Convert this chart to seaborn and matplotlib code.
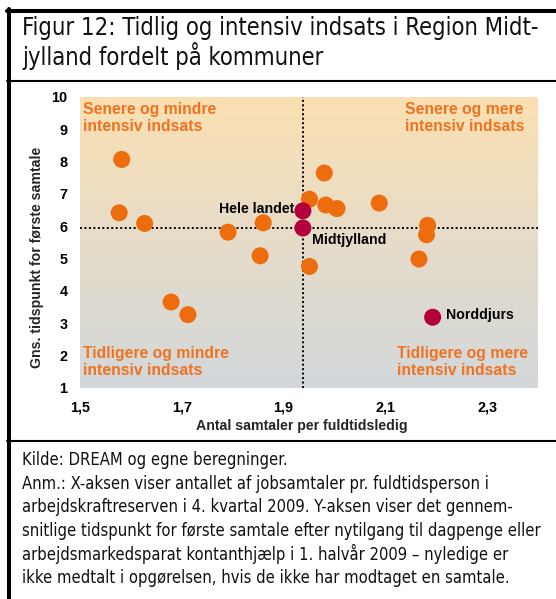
import numpy as np
import pandas as pd
import matplotlib
matplotlib.use("Agg")
import matplotlib.pyplot as plt
import seaborn as sns
from matplotlib import font_manager
from matplotlib.colors import LinearSegmentedColormap
from matplotlib.lines import Line2D

# ---------------- data ----------------
kommune_x = [1.582, 1.577, 1.627, 1.791, 1.860, 1.854, 1.980, 1.951, 1.983, 2.005,
             2.088, 2.183, 2.181, 2.166, 1.951, 1.679, 1.712]
kommune_y = [8.06, 6.41, 6.08, 5.81, 6.10, 5.08, 7.64, 6.83, 6.65, 6.54,
             6.71, 6.02, 5.73, 4.98, 4.75, 3.65, 3.26]
fremhaevet_navn = ["Hele landet", "Midtjylland", "Norddjurs"]
fremhaevet_x = [1.938, 1.938, 2.193]
fremhaevet_y = [6.47, 5.94, 3.18]
x_ticks = [1.5, 1.7, 1.9, 2.1, 2.3]
x_ticklabels = ["1,5", "1,7", "1,9", "2,1", "2,3"]
y_ticks = [1, 2, 3, 4, 5, 6, 7, 8, 9, 10]
ref_x = 1.938   # Midtjylland
ref_y = 5.94

title = "Figur 12: Tidlig og intensiv indsats i Region Midt-\njylland fordelt på kommuner"
notes = ["Kilde: DREAM og egne beregninger.",
         "Anm.: X-aksen viser antallet af jobsamtaler pr. fuldtidsperson i",
         "arbejdskraftreserven i 4. kvartal 2009. Y-aksen viser det gennem-",
         "snitlige tidspunkt for første samtale efter nytilgang til dagpenge eller",
         "arbejdsmarkedsparat kontanthjælp i 1. halvår 2009 – nyledige er",
         "ikke medtalt i opgørelsen, hvis de ikke har modtaget en samtale."]

df = pd.DataFrame({
    "x": kommune_x + fremhaevet_x,
    "y": kommune_y + fremhaevet_y,
    "gruppe": ["kommune"] * len(kommune_x) + ["fremhaevet"] * len(fremhaevet_x),
})

# ---------------- style ----------------
sns.set_theme(style="white")
plt.rcParams["font.family"] = ["Liberation Sans", "DejaVu Sans"]

names = {f.name for f in font_manager.fontManager.ttflist}
if "Liberation Sans Narrow" in names:
    narrow = dict(family=["Liberation Sans Narrow", "DejaVu Sans"])
else:
    narrow = dict(family=["DejaVu Sans"], stretch="condensed")

ORANGE = "#EC6C0E"
CRIMSON = "#B4003A"
LABEL_ORANGE = "#EE7320"

W, H = 556, 599
fig = plt.figure(figsize=(W / 100, H / 100), dpi=100)
fig.patch.set_facecolor("white")

L, R, T, B = 80, 538, 96.7, 387.7
ax = fig.add_axes([L / W, 1 - B / H, (R - L) / W, (B - T) / H])

# gradient background
cmap = LinearSegmentedColormap.from_list(
    "bg", [(0.0, "#D3D7DB"), (0.5, "#E6DCC9"), (1.0, "#FBE0B2")])
grad = np.linspace(0, 1, 256).reshape(-1, 1)
ax.imshow(grad, extent=[1.5, 2.4, 1, 10], origin="lower", aspect="auto",
          cmap=cmap, zorder=0)

ax.axvline(ref_x, color="black", lw=1.4, ls=(0, (1, 1.3)), zorder=2)
ax.axhline(ref_y, color="black", lw=1.4, ls=(0, (1, 1.3)), zorder=2)

sns.scatterplot(data=df, x="x", y="y", hue="gruppe",
                palette={"kommune": ORANGE, "fremhaevet": CRIMSON},
                s=150, edgecolor="none", linewidth=0, legend=False,
                ax=ax, zorder=3)

ax.set_xlim(1.5, 2.4)
ax.set_ylim(1, 10)
ax.set_xticks(x_ticks)
ax.set_xticklabels(x_ticklabels)
ax.set_yticks(y_ticks)
ax.set_yticklabels([str(v) for v in y_ticks])
ax.tick_params(axis="both", length=0, labelsize=10.4)
ax.tick_params(axis="x", pad=9.5)
ax.tick_params(axis="y", pad=9)
for lbl in ax.get_xticklabels() + ax.get_yticklabels():
    lbl.set_fontweight("bold")
    lbl.set_color("black")
ax.set_xlabel("")
ax.set_ylabel("")
for s in ax.spines.values():
    s.set_visible(False)

# point labels
pkw = dict(textcoords="offset pixels", va="center", fontsize=10.2,
           fontweight="bold", color="black", zorder=4)
ax.annotate(fremhaevet_navn[0], (fremhaevet_x[0], fremhaevet_y[0]), xytext=(-9, 2),
            ha="right", **pkw)
ax.annotate(fremhaevet_navn[1], (fremhaevet_x[1], fremhaevet_y[1]), xytext=(9, -12),
            ha="left", **pkw)
ax.annotate(fremhaevet_navn[2], (fremhaevet_x[2], fremhaevet_y[2]), xytext=(13, 2),
            ha="left", **pkw)

# quadrant labels (pixel positions converted to figure coords)
def fx(px):
    return px / W

def fy(py):
    return 1 - py / H

qkw = dict(fontsize=11.3, fontweight="bold", color=LABEL_ORANGE,
           ha="left", va="center", linespacing=1.15)
fig.text(fx(83), fy(118), "Senere og mindre\nintensiv indsats", **qkw)
fig.text(fx(405), fy(118), "Senere og mere\nintensiv indsats", **qkw)
fig.text(fx(83), fy(362), "Tidligere og mindre\nintensiv indsats", **qkw)
fig.text(fx(397), fy(362), "Tidligere og mere\nintensiv indsats", **qkw)

# axis labels
fig.text(fx(302), fy(426), "Antal samtaler per fuldtidsledig", ha="center",
         va="center", fontsize=10.2, fontweight="bold")
fig.text(fx(37.5), fy(257), "Gns. tidspunkt for første samtale", ha="center",
         va="center", rotation=90, fontsize=10.2, fontweight="bold")

# title and notes
t_title = fig.text(fx(22), fy(43), title, ha="left", va="center",
                   fontsize=17, linespacing=1.1, color="#111111", **narrow)
note_objs = []
for i, line in enumerate(notes):
    note_objs.append(fig.text(fx(22), fy(460 + i * 23.6), line, ha="left",
                              va="center", fontsize=12.5, color="#111111", **narrow))

# fit widths of title and notes to the reference
fig.canvas.draw()
rend = fig.canvas.get_renderer()
w = t_title.get_window_extent(rend).width
t_title.set_fontsize(t_title.get_fontsize() * 518 / w)
w = note_objs[3].get_window_extent(rend).width
scale = 518 / w
for t in note_objs:
    t.set_fontsize(t.get_fontsize() * scale)

# frame lines
fig.add_artist(Line2D([fx(8.5), fx(8.5)], [fy(8.5), 0], lw=2.9, color="black",
                      transform=fig.transFigure))
fig.add_artist(Line2D([fx(7), 1], [fy(10.5), fy(10.5)], lw=2.9, color="black",
                      transform=fig.transFigure))
fig.add_artist(Line2D([fx(7), 1], [fy(81), fy(81)], lw=1.5, color="black",
                      transform=fig.transFigure))
fig.add_artist(Line2D([fx(7), 1], [fy(441), fy(441)], lw=1.5, color="black",
                      transform=fig.transFigure))

fig.savefig("out.png", dpi=100, facecolor="white")
